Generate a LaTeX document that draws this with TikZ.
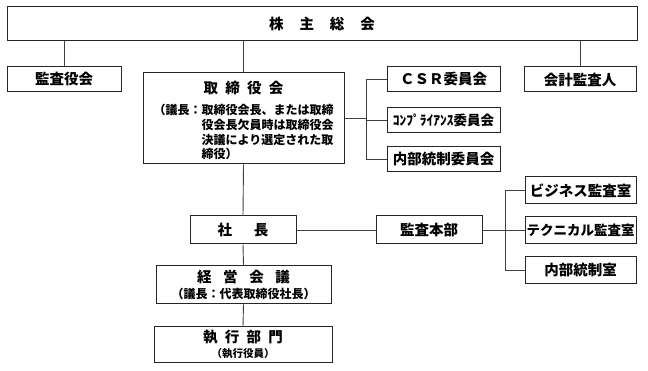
\documentclass[tikz,border=0pt]{standalone}
\usepackage{fontspec}
\setmainfont{Noto Sans CJK JP}
\usetikzlibrary{positioning}

\begin{document}
\begin{tikzpicture}[
    x=1pt, y=-1pt,
    box/.style={rectangle, draw=black!85, line width=1pt, inner sep=0pt, align=center, font=\bfseries\fontsize{14.5}{17}\selectfont},
    conn/.style={line width=0.9pt, draw=black!75},
    sub/.style={font=\bfseries\fontsize{12}{14.5}\selectfont}
]
    \useasboundingbox (0,0) rectangle (648,371);

    % Top level
    \node[box, minimum width=630, minimum height=34] (agm) at (322,23.5) {株\hspace{1.1em}主\hspace{1.1em}総\hspace{1.1em}会};
    \node[box, minimum width=114, minimum height=25] (auditors) at (64,79.5) {監査役会};
    \node[box, minimum width=112, minimum height=25] (extaud) at (580,79.5) {会計監査人};

    % Board and committees
    \node[box, minimum width=201, minimum height=91] (board) at (243.5,118.5) {\rule{0pt}{20pt}取\hspace{.5em}締\hspace{.5em}役\hspace{.5em}会\\[8pt]
        {\fontsize{12}{14.5}\selectfont\begin{tabular}{@{}l@{}l@{}}（議長：&取締役会長、または取締\\ &役会長欠員時は取締役会\\ &決議により選定された取\\ &締役）\end{tabular}}};
    \node[box, minimum width=113, minimum height=25] (csr) at (443.5,79.5) {ＣＳＲ委員会};
    \node[box, minimum width=113, minimum height=25, font=\bfseries\fontsize{13.5}{16}\selectfont] (compl) at (443.5,120) {ｺﾝﾌﾟﾗｲｱﾝｽ委員会};
    \node[box, minimum width=113, minimum height=25] (icc) at (443.5,159) {内部統制委員会};

    % Executive line
    \node[box, minimum width=106, minimum height=28] (pres) at (243,230) {社\hspace{1.5em}長};
    \node[box, minimum width=106, minimum height=28] (audit) at (429,230) {監査本部};
    \node[box, minimum width=175, minimum height=38] (mgmt) at (243.5,285) {経\hspace{.8em}営\hspace{.8em}会\hspace{.8em}議\\[-1pt]
        {\fontsize{12}{14}\selectfont（議長：代表取締役社長）}};
    \node[box, minimum width=178, minimum height=35] (exec) at (243,344.5) {執\hspace{.5em}行\hspace{.5em}部\hspace{.5em}門\\[-2pt]
        {\fontsize{10.5}{12}\selectfont（執行役員）}};

    % Audit offices
    \node[box, minimum width=111, minimum height=27] (bizaud) at (580.5,190.5) {ビジネス監査室};
    \node[box, minimum width=111, minimum height=27, font=\bfseries\fontsize{13.5}{16}\selectfont] (techaud) at (580.5,230.5) {テクニカル監査室};
    \node[box, minimum width=111, minimum height=27] (icoff) at (580.5,270) {内部統制室};

    % Connections
    \draw[conn] (agm.south -| auditors.north) -- (auditors.north);
    \draw[conn] (agm.south -| board.north) -- (board.north);
    \draw[conn] (agm.south -| extaud.north) -- (extaud.north);

    \coordinate (cbus) at (366,118.5);
    \draw[conn] (board.east) -- (cbus);
    \draw[conn] (csr.west) -| (cbus |- icc.west) -- (icc.west);
    \draw[conn] (cbus |- compl.west) -- (compl.west);

    \draw[conn] (board.south) -- (pres.north);
    \draw[conn] (pres.east) -- (audit.west);
    \draw[conn] (pres.south) -- (mgmt.north);
    \draw[conn] (mgmt.south) -- (exec.north);

    \coordinate (abus) at (505,230);
    \draw[conn] (audit.east) -- (abus);
    \draw[conn] (bizaud.west) -| (abus |- icoff.west) -- (icoff.west);
    \draw[conn] (abus |- techaud.west) -- (techaud.west);
\end{tikzpicture}
\end{document}
